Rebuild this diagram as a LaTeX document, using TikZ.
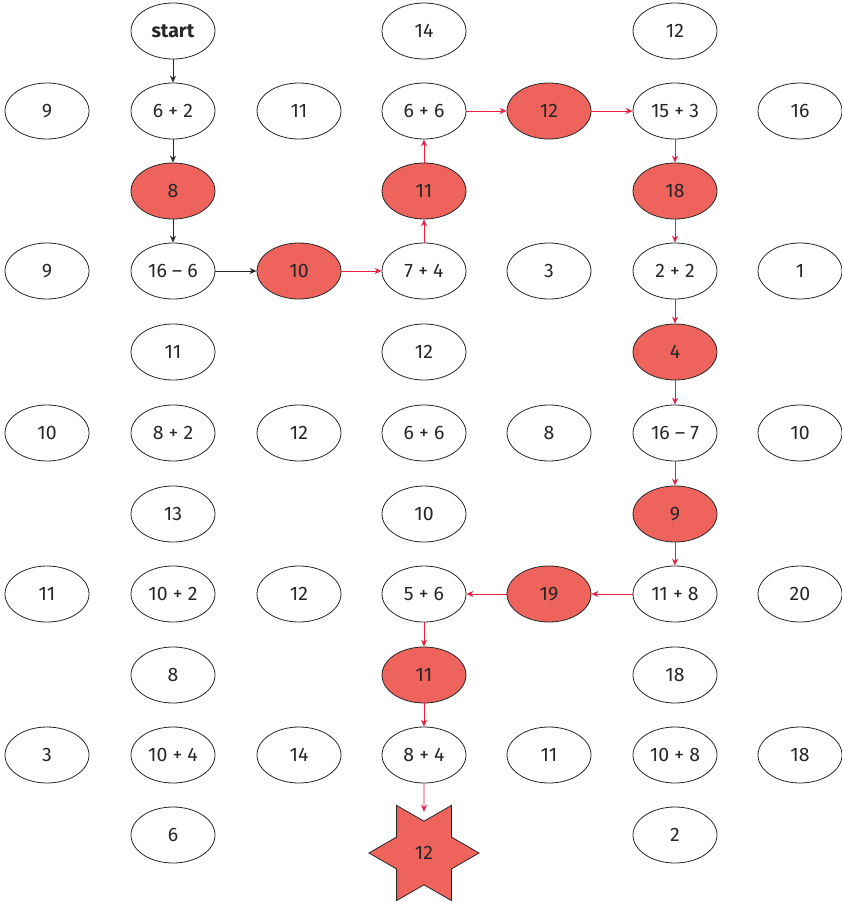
\documentclass[tikz,border=0pt]{standalone}
\usepackage{fontspec}
\setmainfont{Fira Sans}
\usepackage{tikz}
\usetikzlibrary{arrows.meta,shapes.geometric}
\definecolor{hit}{HTML}{EE645D}
\definecolor{pathred}{HTML}{E8203F}

\begin{document}
\begin{tikzpicture}[x=1pt,y=-1pt,
  cell/.style={draw=black!85, line width=0.8pt, ellipse, inner sep=0pt,
    minimum width=84pt, minimum height=56pt, font=\fontsize{19.5}{22}\selectfont, text=black!85},
  hitcell/.style={cell, fill=hit},
  go/.style={-{Stealth[length=7pt,width=6pt]}, line width=0.7pt, black!85},
  gored/.style={go, pathred}]
\useasboundingbox (0,0) rectangle (842,901);
% row 0
\node[cell] (start) at (173,31) {\textbf{start}};
\node[cell] (r0c3) at (424,31) {14};
\node[cell] (r0c5) at (675,31) {12};
% row 1
\node[cell] (r1c0) at (47,111) {9};
\node[cell] (r1c1) at (173,111) {6 + 2};
\node[cell] (r1c2) at (299,111) {11};
\node[cell] (r1c3) at (424,111) {6 + 6};
\node[hitcell] (r1c4) at (549,111) {12};
\node[cell] (r1c5) at (675,111) {15 + 3};
\node[cell] (r1c6) at (800,111) {16};
% row 2
\node[hitcell] (r2c1) at (173,191) {8};
\node[hitcell] (r2c3) at (424,191) {11};
\node[hitcell] (r2c5) at (675,191) {18};
% row 3
\node[cell] (r3c0) at (47,271) {9};
\node[cell] (r3c1) at (173,271) {16 – 6};
\node[hitcell] (r3c2) at (299,271) {10};
\node[cell] (r3c3) at (424,271) {7 + 4};
\node[cell] (r3c4) at (549,271) {3};
\node[cell] (r3c5) at (675,271) {2 + 2};
\node[cell] (r3c6) at (800,271) {1};
% row 4
\node[cell] (r4c1) at (173,352) {11};
\node[cell] (r4c3) at (424,352) {12};
\node[hitcell] (r4c5) at (675,352) {4};
% row 5
\node[cell] (r5c0) at (47,433) {10};
\node[cell] (r5c1) at (173,433) {8 + 2};
\node[cell] (r5c2) at (299,433) {12};
\node[cell] (r5c3) at (424,433) {6 + 6};
\node[cell] (r5c4) at (549,433) {8};
\node[cell] (r5c5) at (675,433) {16 – 7};
\node[cell] (r5c6) at (800,433) {10};
% row 6
\node[cell] (r6c1) at (173,514) {13};
\node[cell] (r6c3) at (424,514) {10};
\node[hitcell] (r6c5) at (675,514) {9};
% row 7
\node[cell] (r7c0) at (47,594) {11};
\node[cell] (r7c1) at (173,594) {10 + 2};
\node[cell] (r7c2) at (299,594) {12};
\node[cell] (r7c3) at (424,594) {5 + 6};
\node[hitcell] (r7c4) at (549,594) {19};
\node[cell] (r7c5) at (675,594) {11 + 8};
\node[cell] (r7c6) at (800,594) {20};
% row 8
\node[cell] (r8c1) at (173,675) {8};
\node[hitcell] (r8c3) at (424,675) {11};
\node[cell] (r8c5) at (675,675) {18};
% row 9
\node[cell] (r9c0) at (47,755) {3};
\node[cell] (r9c1) at (173,755) {10 + 4};
\node[cell] (r9c2) at (299,755) {14};
\node[cell] (r9c3) at (424,755) {8 + 4};
\node[cell] (r9c4) at (549,755) {11};
\node[cell] (r9c5) at (675,755) {10 + 8};
\node[cell] (r9c6) at (800,755) {18};
% row 10
\node[cell] (r10c1) at (173,835) {6};
\node[star, star points=6, star point ratio=1.73, minimum size=110pt, inner sep=0pt,
  shape border rotate=30, draw=black!85, line width=0.8pt, fill=hit,
  font=\fontsize{19.5}{22}\selectfont, text=black!85] (goal) at (424,853) {12};
\node[cell] (r10c5) at (675,835) {2};
% the way through
\draw[go] (start) -- (r1c1);
\draw[go] (r1c1) -- (r2c1);
\draw[go] (r2c1) -- (r3c1);
\draw[go] (r3c1) -- (r3c2);
\draw[gored] (r3c2) -- (r3c3);
\draw[gored] (r3c3) -- (r2c3);
\draw[gored] (r2c3) -- (r1c3);
\draw[gored] (r1c3) -- (r1c4);
\draw[gored] (r1c4) -- (r1c5);
\draw[gored] (r1c5) -- (r2c5);
\draw[gored] (r2c5) -- (r3c5);
\draw[gored] (r3c5) -- (r4c5);
\draw[gored] (r4c5) -- (r5c5);
\draw[gored] (r5c5) -- (r6c5);
\draw[gored] (r6c5) -- (r7c5);
\draw[gored] (r7c5) -- (r7c4);
\draw[gored] (r7c4) -- (r7c3);
\draw[gored] (r7c3) -- (r8c3);
\draw[gored] (r8c3) -- (r9c3);
\draw[gored, shorten >=9pt] (r9c3) -- (goal);
\end{tikzpicture}
\end{document}
